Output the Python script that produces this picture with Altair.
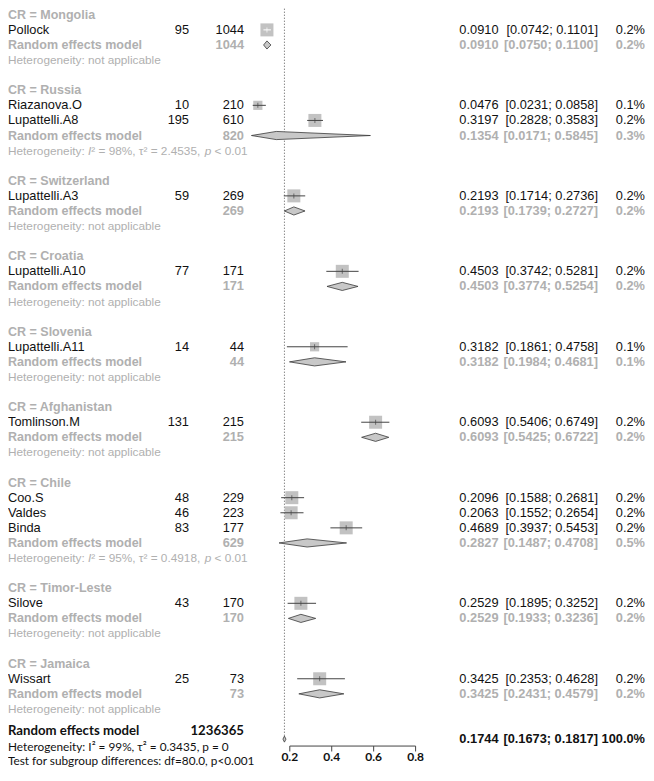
import math
import altair as alt
import pandas as pd

# ---------------- data ----------------
groups = ["Mongolia", "Russia", "Switzerland", "Croatia", "Slovenia",
          "Afghanistan", "Chile", "Timor-Leste", "Jamaica"]
group_sizes = [1, 2, 1, 1, 1, 1, 3, 1, 1]

studies = ["Pollock", "Riazanova.O", "Lupattelli.A8", "Lupattelli.A3",
           "Lupattelli.A10", "Lupattelli.A11", "Tomlinson.M", "Coo.S",
           "Valdes", "Binda", "Silove", "Wissart"]
events = [95, 10, 195, 59, 77, 14, 131, 48, 46, 83, 43, 25]
totals = [1044, 210, 610, 269, 171, 44, 215, 229, 223, 177, 170, 73]
est = [0.0910, 0.0476, 0.3197, 0.2193, 0.4503, 0.3182, 0.6093, 0.2096,
       0.2063, 0.4689, 0.2529, 0.3425]
lower = [0.0742, 0.0231, 0.2828, 0.1714, 0.3742, 0.1861, 0.5406, 0.1588,
         0.1552, 0.3937, 0.1895, 0.2353]
upper = [0.1101, 0.0858, 0.3583, 0.2736, 0.5281, 0.4758, 0.6749, 0.2681,
         0.2654, 0.5453, 0.3252, 0.4628]
weights = [0.2, 0.1, 0.2, 0.2, 0.2, 0.1, 0.2, 0.2, 0.2, 0.2, 0.2, 0.2]

re_total = [1044, 820, 269, 171, 44, 215, 629, 170, 73]
re_est = [0.0910, 0.1354, 0.2193, 0.4503, 0.3182, 0.6093, 0.2827, 0.2529, 0.3425]
re_lower = [0.0750, 0.0171, 0.1739, 0.3774, 0.1984, 0.5425, 0.1487, 0.1933, 0.2431]
re_upper = [0.1100, 0.5845, 0.2727, 0.5254, 0.4681, 0.6722, 0.4708, 0.3236, 0.4579]
re_weight = [0.2, 0.3, 0.2, 0.2, 0.1, 0.2, 0.5, 0.2, 0.2]
het_text = [
    "Heterogeneity: not applicable",
    "Heterogeneity: I² = 98%, τ² = 2.4535, p < 0.01",
    "Heterogeneity: not applicable",
    "Heterogeneity: not applicable",
    "Heterogeneity: not applicable",
    "Heterogeneity: not applicable",
    "Heterogeneity: I² = 95%, τ² = 0.4918, p < 0.01",
    "Heterogeneity: not applicable",
    "Heterogeneity: not applicable",
]

overall_label = "Random effects model"
overall_total = 1236365
overall_est = 0.1744
overall_lower = 0.1673
overall_upper = 0.1817
overall_weight = 100.0
overall_het = "Heterogeneity: I² = 99%, τ² = 0.3435, p = 0"
subgroup_test = "Test for subgroup differences: df=80.0, p<0.001"
axis_ticks = [0.2, 0.4, 0.6, 0.8]

# ---------------- layout ----------------
W, H = 638, 760
MAIN = "Liberation Sans"
ALT_FONT = "Lato"
GREY = "#b0b0b0"
BLACK = "#111111"
X_NAME, X_EVENTS, X_TOTAL, X_EST, X_CI, X_W = 0, 181, 236, 490.5, 590, 637
FS = 12.8
HET_FS = 11.8
X0, X1 = 281.8, 407.6
PX_PER_UNIT = (X1 - X0) / 0.6
Y0, PITCH = 6.8, 15.09

xscale = alt.Scale(domain=[0.2, 0.8], range=[X0, X1], nice=False, zero=False)
yscale = alt.Scale(domain=[0, 48], range=[Y0, Y0 + 48 * PITCH], nice=False, zero=False)

header_rows, study_rows, re_rows, het_rows = [], [], [], []
r = 0
for gsize in group_sizes:
    header_rows.append(r); r += 1
    for _ in range(gsize):
        study_rows.append(r); r += 1
    re_rows.append(r); r += 1
    het_rows.append(r); r += 1
    r += 1
overall_row = r  # 48
overall_label_row = overall_row - 0.55
overall_het_row = overall_row + 0.52
test_row = overall_row + 1.45
axis_row = overall_row + 0.46
tick_end_row = overall_row + 0.82
axis_label_row = overall_row + 1.18

fmt = lambda v: f"{v:.4f}"
ci = lambda lo, hi: f"[{lo:.4f}; {hi:.4f}]"

# Arial / Liberation Sans advance widths (em) for splitting italic segments
ARIAL_W = {"H": .722, "e": .556, "t": .278, "r": .333, "o": .556, "g": .556, "n": .556,
           "i": .222, "y": .5, ":": .278, " ": .278, "I": .278, "²": .333, "=": .584,
           "%": .889, ",": .278, "τ": .49, ".": .278, "p": .556, "<": .584}
for d in "0123456789":
    ARIAL_W[d] = .556


def text_width(s, size):
    return sum(ARIAL_W.get(c, .556) for c in s) * size


def tdf(rows, px, labels):
    return pd.DataFrame({"row": rows, "px": [px] * len(rows), "label": labels})


def text_layer(df, align, color, size=FS, weight="normal", font=MAIN, style="normal"):
    return alt.Chart(df).mark_text(
        align=align, baseline="middle", font=font, fontSize=size,
        fontWeight=weight, color=color, fontStyle=style
    ).encode(
        x=alt.X("px:Q", scale=None, axis=None),
        y=alt.Y("row:Q", scale=yscale, axis=None),
        text="label:N",
    )


layers = []

# reference (dotted) line at overall estimate
ref_df = pd.DataFrame({"x": [overall_est], "y1": [-1.0], "y2": [overall_row - 0.22]})
layers.append(alt.Chart(ref_df).mark_rule(color="#555555", strokeWidth=1, strokeDash=[1, 2]).encode(
    x=alt.X("x:Q", scale=xscale, axis=None),
    y=alt.Y("y1:Q", scale=yscale, axis=None), y2="y2:Q"))

# studies
sd = pd.DataFrame({"row": study_rows, "est": est, "lo": lower, "hi": upper, "w": weights})
side = [math.sqrt(w / 0.2 * 169) for w in weights]
sd["lc"] = ["#ffffff" if (h - l) * PX_PER_UNIT < s else "#444444"
            for l, h, s in zip(lower, upper, side)]

layers.append(alt.Chart(sd).mark_square(filled=True, opacity=1, color="#c2c2c2").encode(
    x=alt.X("est:Q", scale=xscale, axis=None),
    y=alt.Y("row:Q", scale=yscale, axis=None),
    size=alt.Size("w:Q", scale=alt.Scale(domain=[0, 0.2], range=[0, 169]), legend=None)))
layers.append(alt.Chart(sd).mark_rule(strokeWidth=1).encode(
    x=alt.X("lo:Q", scale=xscale, axis=None), x2="hi:Q",
    y=alt.Y("row:Q", scale=yscale, axis=None),
    color=alt.Color("lc:N", scale=None)))
layers.append(alt.Chart(sd).mark_tick(orient="vertical", size=5, thickness=1).encode(
    x=alt.X("est:Q", scale=xscale, axis=None),
    y=alt.Y("row:Q", scale=yscale, axis=None),
    color=alt.Color("lc:N", scale=None)))

# diamonds
hh = 0.27
drows = []
for i, (rr, e, lo, hi) in enumerate(zip(re_rows + [overall_row], re_est + [overall_est],
                                          re_lower + [overall_lower], re_upper + [overall_upper])):
    h = hh if i < len(re_rows) else 0.2
    drows += [dict(id=i, x=lo, y1=rr, y2=rr), dict(id=i, x=e, y1=rr - h, y2=rr + h),
              dict(id=i, x=hi, y1=rr, y2=rr)]
dd = pd.DataFrame(drows)
layers.append(alt.Chart(dd).mark_area(fill="#c8c8c8", stroke="#3a3a3a", strokeWidth=0.8,
                                      opacity=1).encode(
    x=alt.X("x:Q", scale=xscale, axis=None),
    y=alt.Y("y1:Q", scale=yscale, axis=None, stack=None), y2="y2:Q",
    detail="id:N"))

# axis
ax_df = pd.DataFrame({"x": [axis_ticks[0]], "x2": [axis_ticks[-1]], "row": [axis_row]})
layers.append(alt.Chart(ax_df).mark_rule(color="#444444", strokeWidth=1).encode(
    x=alt.X("x:Q", scale=xscale, axis=None), x2="x2:Q",
    y=alt.Y("row:Q", scale=yscale, axis=None)))
tk_df = pd.DataFrame({"x": axis_ticks, "y1": [axis_row] * 4, "y2": [tick_end_row] * 4,
                      "lab": [f"{t:.1f}" for t in axis_ticks], "row": [axis_label_row] * 4})
layers.append(alt.Chart(tk_df).mark_rule(color="#444444", strokeWidth=1).encode(
    x=alt.X("x:Q", scale=xscale, axis=None),
    y=alt.Y("y1:Q", scale=yscale, axis=None), y2="y2:Q"))
layers.append(alt.Chart(tk_df).mark_text(font=ALT_FONT, fontSize=12, fontWeight="bold",
                                         color=BLACK, baseline="middle", align="center").encode(
    x=alt.X("x:Q", scale=xscale, axis=None),
    y=alt.Y("row:Q", scale=yscale, axis=None), text="lab:N"))

# text: group headers
layers.append(text_layer(tdf(header_rows, X_NAME, [f"CR = {g}" for g in groups]),
                         "left", GREY, 12.5, "bold"))
# study rows
layers.append(text_layer(tdf(study_rows, X_NAME, studies), "left", BLACK))
layers.append(text_layer(tdf(study_rows, X_EVENTS, [str(v) for v in events]), "right", BLACK))
layers.append(text_layer(tdf(study_rows, X_TOTAL, [str(v) for v in totals]), "right", BLACK))
layers.append(text_layer(tdf(study_rows, X_EST, [fmt(v) for v in est]), "right", BLACK))
layers.append(text_layer(tdf(study_rows, X_CI, [ci(l, h) for l, h in zip(lower, upper)]), "right", BLACK))
layers.append(text_layer(tdf(study_rows, X_W, [f"{w:.1f}%" for w in weights]), "right", BLACK))
# random effects rows
layers.append(text_layer(tdf(re_rows, X_NAME, ["Random effects model"] * len(re_rows)),
                         "left", GREY, 12.5, "bold"))
layers.append(text_layer(tdf(re_rows, X_TOTAL, [str(v) for v in re_total]), "right", GREY, FS, "bold"))
layers.append(text_layer(tdf(re_rows, X_EST, [fmt(v) for v in re_est]), "right", GREY, FS, "bold"))
layers.append(text_layer(tdf(re_rows, X_CI, [ci(l, h) for l, h in zip(re_lower, re_upper)]),
                         "right", GREY, FS, "bold"))
layers.append(text_layer(tdf(re_rows, X_W, [f"{w:.1f}%" for w in re_weight]), "right", GREY, FS, "bold"))

# heterogeneity rows: split so that "I" and "p" are italic
reg_rows, reg_px, reg_lab = [], [], []
it_rows, it_px, it_lab = [], [], []
for rr, s in zip(het_rows, het_text):
    if "I²" not in s:
        reg_rows.append(rr); reg_px.append(X_NAME); reg_lab.append(s)
        continue
    a = s.index("I²")
    b = s.index(", p ") + 2
    segs = [(s[:a], False), ("I", True), (s[a + 1:b], False), ("p", True), (s[b + 1:], False)]
    x = X_NAME
    for seg, italic in segs:
        lead = len(seg) - len(seg.lstrip(" "))
        x_draw = x + text_width(seg[:lead], HET_FS)
        body = seg.strip(" ")
        if body:
            if italic:
                it_rows.append(rr); it_px.append(x_draw); it_lab.append(body)
            else:
                reg_rows.append(rr); reg_px.append(x_draw); reg_lab.append(body)
        x += text_width(seg, HET_FS)
layers.append(text_layer(pd.DataFrame({"row": reg_rows, "px": reg_px, "label": reg_lab}),
                         "left", GREY, HET_FS))
layers.append(text_layer(pd.DataFrame({"row": it_rows, "px": it_px, "label": it_lab}),
                         "left", GREY, HET_FS, style="italic"))

# overall
layers.append(text_layer(tdf([overall_label_row], X_NAME, [overall_label]), "left", BLACK, 13.2,
                         "bold", ALT_FONT))
layers.append(text_layer(tdf([overall_label_row], X_TOTAL, [str(overall_total)]), "right", BLACK, 13.2,
                         "bold", ALT_FONT))
layers.append(text_layer(tdf([overall_row], X_EST, [fmt(overall_est)]), "right", BLACK, FS, "bold"))
layers.append(text_layer(tdf([overall_row], X_CI, [ci(overall_lower, overall_upper)]), "right", BLACK,
                         FS, "bold"))
layers.append(text_layer(tdf([overall_row], X_W, [f"{overall_weight:.1f}%"]), "right", BLACK, FS, "bold"))
layers.append(text_layer(tdf([overall_het_row, test_row], X_NAME, [overall_het, subgroup_test]),
                         "left", BLACK, 11.8, "normal", ALT_FONT))

chart = alt.layer(*layers).properties(
    width=W, height=H, padding=0, autosize="none"
).configure_view(stroke=None)

chart.save("out.html", embed_options={"renderer": "svg", "actions": False})
